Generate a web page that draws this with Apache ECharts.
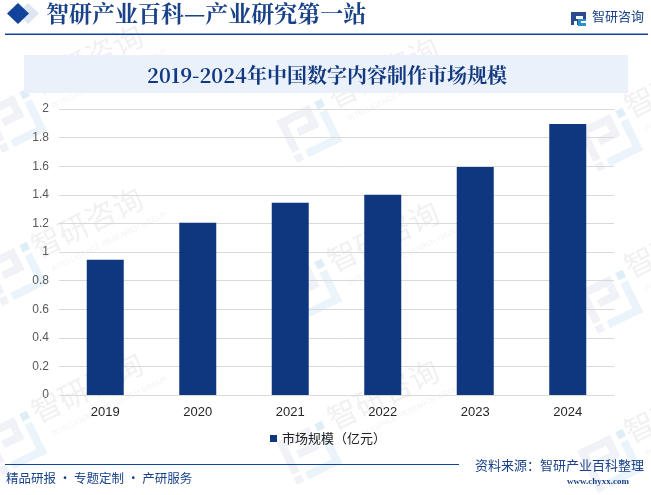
<!DOCTYPE html>
<html>
<head>
<meta charset="utf-8">
<style>
html,body{margin:0;padding:0;background:#fff;}
#chart{width:651px;height:495px;}
</style>
<script src="https://cdn.jsdelivr.net/npm/echarts@6/dist/echarts.min.js"></script>
</head>
<body>
<div id="chart"></div>
<script>
var years = ["2019", "2020", "2021", "2022", "2023", "2024"];
var marketSize = [0.945, 1.205, 1.345, 1.4, 1.595, 1.895];
var seriesName = "市场规模（亿元）";
var titleText = "2019-2024年中国数字内容制作市场规模";
var headerText = "智研产业百科—产业研究第一站";
var footerLeft = "精品研报 · 专题定制 · 产研服务";
var footerRight = "资料来源：智研产业百科整理";
var footerUrl = "www.chyxx.com";

var serif = '"Noto Serif CJK SC","Liberation Serif","Noto Sans CJK SC",serif';
var sans = '"Noto Sans CJK SC",sans-serif';
var markAngle = 26 * Math.PI / 180;

// 水印：文字，x、y 为“智”字左下角
function markText(x, y) {
    return {
        type: "group", x: x, y: y, rotation: markAngle, z: -10, silent: true,
        children: [
            {type: "text", x: 0, y: -31, style: {text: "智研咨询", fill: "#f1f1f1", font: "30px " + sans, letterSpacing: 5}},
            {type: "text", x: 8, y: 7, style: {text: "INTELLIGENCE RESEARCH GROUP", fill: "#f3f3f3", font: "7.5px Arial,'Liberation Sans'"}}
        ]
    };
}
// 水印：logo，x、y 为中心
function markLogo(x, y) {
    var gray = "#f0f2f7";
    var light = "#ebf4fa";
    return {
        type: "group", x: x, y: y, rotation: markAngle, z: -10, silent: true,
        children: [
            {type: "rect", shape: {x: -26, y: -23, width: 36, height: 8}, style: {fill: gray}},
            {type: "rect", shape: {x: -26, y: -23, width: 8, height: 36}, style: {fill: gray}},
            {type: "rect", shape: {x: 2, y: -23, width: 8, height: 24}, style: {fill: gray}},
            {type: "rect", shape: {x: -12, y: -7, width: 22, height: 8}, style: {fill: gray}},
            {type: "rect", shape: {x: -26, y: 16, width: 8, height: 8}, style: {fill: gray}},
            {type: "rect", shape: {x: 16, y: -23, width: 8, height: 8}, style: {fill: "#dfedf6"}},
            {type: "rect", shape: {x: 16, y: -11, width: 8, height: 35}, style: {fill: light}},
            {type: "rect", shape: {x: -13, y: 16, width: 37, height: 8}, style: {fill: light}}
        ]
    };
}

var decor = [
    markLogo(15, 120), markLogo(310, 130), markLogo(611, 139),
    markLogo(15, 273), markLogo(310, 290), markLogo(611, 301),
    markLogo(15, 442), markLogo(310, 452), markLogo(611, 460),
    markText(40, 100), markText(336, 113), markText(633, 123),
    markText(40, 263), markText(336, 277), markText(633, 283),
    markText(40, 428), markText(336, 435), markText(633, 448),
    // 顶部
    {type: "rect", shape: {x: 0, y: 0, width: 651, height: 33}, style: {fill: "#fff"}, z: -5},
    {type: "polygon", shape: {points: [[28, 3], [39, 13.5], [28, 24], [17, 13.5]]}, style: {fill: "#dfe5f1"}, z: 1},
    {type: "polygon", shape: {points: [[18, 3], [29, 13.5], [18, 24], [7, 13.5]]}, style: {fill: "#12439b"}, z: 2},
    {type: "text", x: 46, y: 2, style: {text: headerText, fill: "#1a4288", font: "bold 23px " + serif}, z: 2},
    {type: "rect", shape: {x: 5, y: 33.5, width: 643, height: 1.5}, style: {fill: "#12439b"}, z: 2},
    // 右上 logo
    {type: "rect", shape: {x: 571, y: 12, width: 15, height: 13}, style: {fill: "#2b4a8f"}, z: 2},
    {type: "rect", shape: {x: 576, y: 16, width: 7, height: 3}, style: {fill: "#fff"}, z: 3},
    {type: "rect", shape: {x: 574, y: 21, width: 3, height: 4}, style: {fill: "#fff"}, z: 3},
    {type: "rect", shape: {x: 578, y: 19, width: 8, height: 7}, style: {fill: "#2b90d0"}, z: 2},
    {type: "rect", shape: {x: 581, y: 21, width: 5, height: 2}, style: {fill: "#fff"}, z: 3},
    {type: "text", x: 592, y: 10, style: {text: "智研咨询", fill: "#1a4288", font: "13px " + sans}, z: 2},
    // 标题
    {type: "rect", shape: {x: 24, y: 55, width: 604, height: 38}, style: {fill: "#eaf1fb"}, z: 1},
    {type: "text", x: 327, y: 75, style: {text: titleText, fill: "#12397f", font: "bold 20px " + serif, align: "center", verticalAlign: "middle"}, z: 2},
    // 底部
    {type: "rect", shape: {x: 5, y: 464, width: 454, height: 1}, style: {fill: "#12439b"}, z: 2},
    {type: "text", x: 6, y: 472, style: {text: footerLeft, fill: "#1a4288", font: "12.5px " + sans}, z: 2},
    {type: "text", x: 475, y: 459, style: {text: footerRight, fill: "#1a4288", font: "13px " + sans, letterSpacing: 0.35}, z: 2},
    {type: "text", x: 567, y: 477, style: {text: footerUrl, fill: "#1a4288", font: "bold 9px " + '"Liberation Serif",serif', letterSpacing: 2.6}, z: 2}
];

var chart = echarts.init(document.getElementById("chart"), null, {renderer: "canvas"});
chart.setOption({
    animation: false,
    backgroundColor: "#fff",
    graphic: decor,
    grid: {left: 59, right: 37, top: 109, bottom: 100},
    legend: {
        data: [seriesName],
        left: 265, top: 427,
        icon: "rect", itemWidth: 7, itemHeight: 7, itemGap: 4,
        textStyle: {fontFamily: sans, fontSize: 13, color: "#222"}
    },
    xAxis: {
        type: "category",
        data: years,
        axisTick: {show: false},
        axisLine: {lineStyle: {color: "#d9d9d9", width: 1}},
        axisLabel: {fontFamily: "Arial,'Liberation Sans'", fontSize: 13, color: "#262626", margin: 11}
    },
    yAxis: {
        type: "value",
        min: 0, max: 2, interval: 0.2,
        axisLine: {show: false},
        axisTick: {show: false},
        splitLine: {lineStyle: {color: "#d9d9d9", width: 1}},
        axisLabel: {fontFamily: "Arial,'Liberation Sans'", fontSize: 12, color: "#595959", margin: 10, padding: [4, 0, 0, 0]}
    },
    series: [{
        name: seriesName,
        type: "bar",
        barWidth: "40%",
        itemStyle: {color: "#0e3780"},
        data: marketSize
    }]
});
</script>
</body>
</html>
